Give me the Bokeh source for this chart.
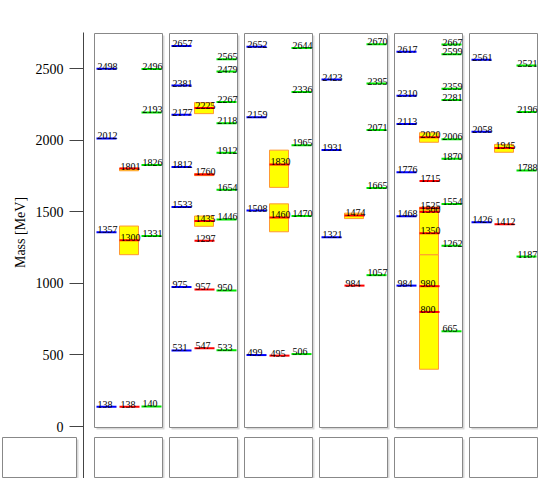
from bokeh.plotting import figure
from bokeh.models import Range1d, LinearAxis, FixedTicker, ColumnDataSource
from bokeh.embed import file_html
from bokeh.resources import INLINE
from bokeh.core.properties import value

# ---- data (MeV) ----
blue_levels = [
    [138, 1357, 2012, 2498],
    [531, 975, 1533, 1812, 2177, 2381, 2657],
    [499, 1508, 2159, 2652],
    [1321, 1931, 2423],
    [984, 1468, 1776, 2113, 2310, 2617],
    [1426, 2058, 2561],
]
red_levels = [
    [138, 1300, 1801],
    [547, 957, 1297, 1435, 1760, 2225],
    [495, 1460, 1830],
    [984, 1474],
    [800, 980, 1350, 1500, 1525, 1715, 2020],
    [1412, 1945],
]
green_levels = [
    [140, 1331, 1826, 2193, 2496],
    [533, 950, 1446, 1654, 1912, 2118, 2267, 2479, 2565],
    [506, 1470, 1965, 2336, 2644],
    [1057, 1665, 2071, 2395, 2670],
    [665, 1262, 1554, 1870, 2006, 2281, 2359, 2599, 2667],
    [1187, 1788, 2196, 2521],
]
box_panel = [0, 0, 1, 1, 1, 2, 2, 3, 4, 4, 4, 4, 5]
box_low = [1200, 1786, 1398, 1752, 2185, 1360, 1670, 1452, 400, 1200, 1495, 1985, 1915]
box_high = [1400, 1804, 1470, 1766, 2262, 1555, 1930, 1490, 1200, 1500, 1532, 2052, 1970]
y_ticks = [0, 500, 1000, 1500, 2000, 2500]

# ---- layout (page pixels) ----
W, H = 538, 478
PANEL_X0, PANEL_STEP, PANEL_W = 94, 75, 68
PANEL_TOP, PANEL_BOT = 33, 427
LOW_TOP, LOW_BOT = 437, 477
COLS = {"blue": (2, 22), "red": (25, 45), "green": (47, 67)}
COLORS = {"blue": "#0000ff", "red": "#ff0000", "green": "#00e600"}
FONT = "Liberation Serif"

p = figure(width=W, height=H, x_range=Range1d(0, W), y_range=Range1d(-363, 2975),
           x_axis_location=None, y_axis_location=None, toolbar_location=None,
           output_backend="svg", min_border=0)
p.outline_line_color = None
p.grid.visible = False
p.extra_y_ranges = {"px": Range1d(H, 0)}

# panel frames
lefts = [PANEL_X0 + PANEL_STEP * k for k in range(len(blue_levels))]
fl = [2] + lefts
fr = [76] + [l + PANEL_W for l in lefts]
p.quad(left=[l + 2 for l in lefts], right=[l + PANEL_W + 2 for l in lefts],
       top=PANEL_TOP + 2, bottom=PANEL_BOT + 2, y_range_name="px",
       fill_color="#d8d8d8", line_color=None)
p.quad(left=lefts, right=[l + PANEL_W for l in lefts], top=PANEL_TOP, bottom=PANEL_BOT,
       y_range_name="px", fill_color="white", line_color="#888888", line_width=1)
p.quad(left=[l + 2 for l in fl], right=[r + 2 for r in fr], top=LOW_TOP + 2, bottom=LOW_BOT + 1,
       y_range_name="px", fill_color="#d8d8d8", line_color=None)
p.quad(left=fl, right=fr, top=LOW_TOP, bottom=LOW_BOT, y_range_name="px",
       fill_color="white", line_color="#888888", line_width=1)

# experimental boxes
p.quad(left=[lefts[k] + COLS["red"][0] for k in box_panel],
       right=[lefts[k] + COLS["red"][1] - 1 for k in box_panel],
       bottom=box_low, top=box_high, fill_color="#ffff00",
       line_color="#ff9933", line_width=1)

# levels
sources = []
for name, levels in (("blue", blue_levels), ("red", red_levels), ("green", green_levels)):
    x0s, x1s, ys, labels = [], [], [], []
    for k, lv in enumerate(levels):
        for m in lv:
            x0s.append(lefts[k] + COLS[name][0])
            x1s.append(lefts[k] + COLS[name][1])
            ys.append(m)
            labels.append(str(m))
    src = ColumnDataSource(dict(x0=x0s, x1=x1s, y=ys, t=labels))
    sources.append(src)
    p.segment(x0="x0", x1="x1", y0="y", y1="y", source=src,
              line_color=COLORS[name], line_width=2)
for src in sources:
    p.text(x="x0", y="y", text="t", source=src, x_offset=1, y_offset=1,
           text_font=value(FONT), text_font_size="10px", text_color="black",
           text_baseline="bottom", text_align="left")

ax = LinearAxis(fixed_location=83, ticker=FixedTicker(ticks=y_ticks),
                bounds=(-400, 2752))
ax.major_tick_out = 14
ax.major_tick_in = 0
ax.minor_tick_line_color = None
ax.axis_line_color = "#444444"
ax.major_tick_line_color = "#444444"
ax.major_label_text_font = FONT
ax.major_label_text_font_size = "14px"
ax.major_label_text_color = "black"
ax.major_label_standoff = 6
p.add_layout(ax, "left")

# axis title carried by a second, line-less axis so it can be centred like the reference
ax2 = LinearAxis(fixed_location=83, ticker=FixedTicker(ticks=[]), bounds=(0, 2710),
                 axis_label="Mass [MeV]")
ax2.axis_line_color = None
ax2.major_tick_line_color = None
ax2.minor_tick_line_color = None
ax2.axis_label_text_font = FONT
ax2.axis_label_text_font_size = "14px"
ax2.axis_label_text_font_style = "normal"
ax2.axis_label_text_color = "black"
ax2.axis_label_standoff = 56
p.add_layout(ax2, "left")

open("out.html", "w").write(file_html(p, INLINE))
